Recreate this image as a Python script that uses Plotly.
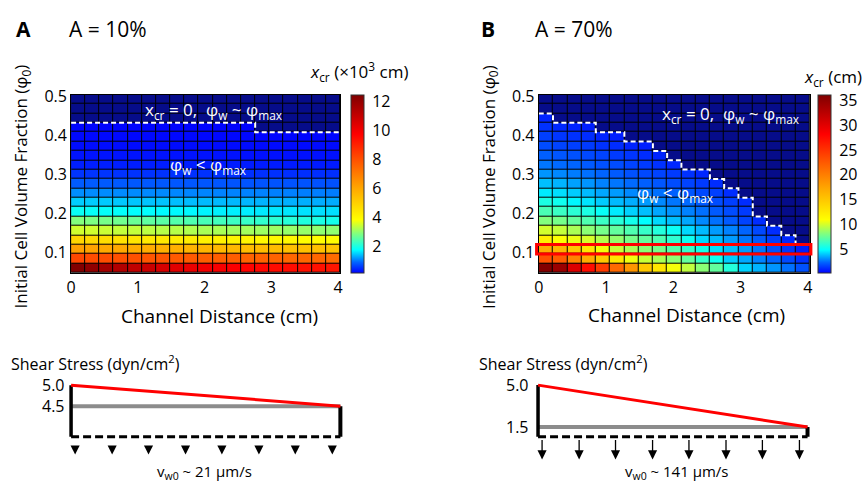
import plotly.graph_objects as go

# ---------------------------------------------------------------- data
# cell edges of the simulation grid
DIST_EDGES = [0.0, 0.212, 0.424, 0.636, 0.848, 1.061, 1.273, 1.485, 1.697, 1.909,
              2.121, 2.333, 2.545, 2.757, 2.969, 3.182, 3.394, 3.606, 3.818, 4.03]
PHI_EDGES = [0.049, 0.073, 0.097, 0.121, 0.145, 0.169, 0.193, 0.217, 0.241, 0.265,
             0.289, 0.313, 0.337, 0.361, 0.385, 0.409, 0.433, 0.457, 0.481, 0.505]

# x_cr for A = 10 % (units of 10^3 cm); rows go from low to high phi0
XCR_A10 = [
    [12.4, 12.1, 11.7, 11.4, 11.1, 10.9, 10.6, 10.4, 10.2, 10.0, 9.9, 9.8, 9.7, 9.6, 9.5, 9.5, 9.4, 9.4, 9.3],
    [8.2, 8.1, 8.1, 8.0, 8.0, 7.9, 7.9, 7.8, 7.8, 7.7, 7.7, 7.7, 7.6, 7.6, 7.6, 7.5, 7.5, 7.5, 7.4],
    [6.2, 6.1, 6.0, 6.0, 5.9, 5.9, 5.8, 5.8, 5.7, 5.7, 5.6, 5.6, 5.5, 5.5, 5.5, 5.4, 5.4, 5.4, 5.3],
    [4.9, 4.8, 4.7, 4.6, 4.5, 4.4, 4.4, 4.3, 4.3, 4.2, 4.2, 4.1, 4.1, 4.0, 4.0, 4.0, 3.9, 3.9, 3.9],
    [3.50, 3.50, 3.45, 3.40, 3.40, 3.35, 3.30, 3.30, 3.25, 3.20, 3.20, 3.15, 3.15, 3.10, 3.10, 3.05, 3.05, 3.00, 3.00],
    [2.90, 2.85, 2.80, 2.75, 2.70, 2.60, 2.55, 2.50, 2.45, 2.40, 2.35, 2.30, 2.25, 2.20, 2.15, 2.10, 2.05, 2.00, 1.95],
    [1.85, 1.83, 1.82, 1.80, 1.79, 1.78, 1.76, 1.75, 1.74, 1.72, 1.70, 1.69, 1.68, 1.66, 1.65, 1.64, 1.62, 1.61, 1.60],
    [1.50, 1.49, 1.48, 1.47, 1.46, 1.45, 1.44, 1.42, 1.41, 1.40, 1.39, 1.38, 1.37, 1.36, 1.35, 1.34, 1.33, 1.32, 1.31],
    [1.15, 1.14, 1.14, 1.13, 1.13, 1.12, 1.12, 1.11, 1.10, 1.10, 1.09, 1.09, 1.08, 1.08, 1.07, 1.07, 1.06, 1.06, 1.05],
    [0.85, 0.85, 0.84, 0.84, 0.83, 0.83, 0.83, 0.82, 0.82, 0.81, 0.81, 0.80, 0.80, 0.80, 0.79, 0.79, 0.79, 0.78, 0.78],
    [0.56, 0.56, 0.56, 0.55, 0.55, 0.55, 0.55, 0.54, 0.54, 0.54, 0.54, 0.53, 0.53, 0.53, 0.53, 0.52, 0.52, 0.52, 0.52],
    [0.40, 0.40, 0.40, 0.40, 0.39, 0.39, 0.39, 0.39, 0.39, 0.38, 0.38, 0.38, 0.38, 0.38, 0.38, 0.37, 0.37, 0.37, 0.37],
    [0.32, 0.32, 0.32, 0.32, 0.32, 0.31, 0.31, 0.31, 0.31, 0.31, 0.31, 0.31, 0.30, 0.30, 0.30, 0.30, 0.30, 0.30, 0.30],
    [0.27, 0.27, 0.27, 0.27, 0.26, 0.26, 0.26, 0.26, 0.26, 0.26, 0.26, 0.26, 0.26, 0.25, 0.25, 0.25, 0.25, 0.25, 0.25],
    [0.24, 0.24, 0.24, 0.24, 0.23, 0.23, 0.23, 0.23, 0.23, 0.23, 0.23, 0.23, 0.23, 0.22, 0.22, 0.22, 0.22, 0.22, 0.22],
    [0.21, 0.21, 0.21, 0.21, 0.21, 0.21, 0.21, 0.21, 0.21, 0.20, 0.20, 0.20, 0.20, 0, 0, 0, 0, 0, 0],
    [0] * 19,
    [0] * 19,
    [0] * 19,
]

# x_cr for A = 70 % (cm); rows go from low to high phi0
XCR_A70 = [
    [36.0, 34.6, 30.5, 27.5, 24.5, 21.5, 18.5, 15.0, 12.8, 10.8, 9.6, 8.4, 7.4, 5.8, 4.2, 3.7, 3.2, 2.6, 2.0],
    [23.1, 22.5, 19.8, 17.1, 15.0, 12.8, 10.7, 9.8, 9.1, 8.4, 7.4, 6.3, 5.3, 4.1, 3.5, 2.9, 2.4, 1.8, 1.3],
    [17.1, 16.4, 15.0, 12.8, 10.8, 9.8, 9.1, 8.4, 7.9, 7.1, 6.3, 5.5, 4.4, 3.9, 3.3, 2.7, 2.0, 1.4, 0.9],
    [12.1, 11.0, 10.6, 10.1, 9.3, 8.6, 7.9, 7.4, 6.9, 6.1, 5.3, 4.3, 3.8, 3.3, 2.7, 2.2, 1.6, 1.1, 0],
    [10.0, 9.7, 9.1, 8.4, 7.9, 7.4, 6.9, 6.3, 5.8, 5.2, 4.3, 3.8, 3.3, 2.9, 2.4, 1.8, 1.2, 0, 0],
    [8.2, 7.9, 7.4, 6.9, 6.4, 5.9, 5.4, 4.9, 4.3, 3.9, 3.5, 3.0, 2.6, 2.2, 1.7, 1.2, 0, 0, 0],
    [6.8, 6.4, 6.0, 5.6, 5.1, 4.6, 4.2, 3.9, 3.5, 3.2, 2.9, 2.6, 2.2, 1.9, 1.5, 0, 0, 0, 0],
    [5.6, 5.3, 4.8, 4.5, 4.1, 3.8, 3.6, 3.3, 3.0, 2.7, 2.5, 2.2, 1.9, 1.6, 1.2, 0, 0, 0, 0],
    [4.6, 4.4, 4.1, 3.8, 3.5, 3.3, 3.0, 2.8, 2.6, 2.3, 2.1, 1.8, 1.6, 1.2, 0, 0, 0, 0, 0],
    [3.9, 3.7, 3.4, 3.2, 2.9, 2.7, 2.5, 2.3, 2.1, 1.9, 1.7, 1.5, 1.2, 0, 0, 0, 0, 0, 0],
    [3.2, 3.0, 2.8, 2.6, 2.4, 2.2, 2.0, 1.8, 1.7, 1.5, 1.3, 1.1, 0, 0, 0, 0, 0, 0, 0],
    [2.7, 2.5, 2.4, 2.2, 2.0, 1.9, 1.7, 1.5, 1.3, 1.1, 0, 0, 0, 0, 0, 0, 0, 0, 0],
    [2.3, 2.1, 2.0, 1.8, 1.7, 1.5, 1.4, 1.2, 1.0, 0, 0, 0, 0, 0, 0, 0, 0, 0, 0],
    [1.9, 1.7, 1.6, 1.5, 1.3, 1.2, 1.0, 0.9, 0, 0, 0, 0, 0, 0, 0, 0, 0, 0, 0],
    [1.6, 1.4, 1.3, 1.2, 1.0, 0.9, 0, 0, 0, 0, 0, 0, 0, 0, 0, 0, 0, 0, 0],
    [1.3, 1.1, 1.0, 0.9, 0, 0, 0, 0, 0, 0, 0, 0, 0, 0, 0, 0, 0, 0, 0],
    [1.0, 0, 0, 0, 0, 0, 0, 0, 0, 0, 0, 0, 0, 0, 0, 0, 0, 0, 0],
    [0] * 19,
    [0] * 19,
]

HIGHLIGHT_ROW_A70 = 2          # phi0 ~ 0.1 row, outlined in red

CBAR_A10 = dict(cmin=0.18, cmax=12.45, ticks=[2, 4, 6, 8, 10, 12])
CBAR_A70 = dict(cmin=0.25, cmax=36.2, ticks=[5, 10, 15, 20, 25, 30, 35])

# shear-stress sketches: inlet / outlet wall stress, mean, filtration velocity
SHEAR_A10 = dict(inlet=5.0, outlet=4.5, floor=3.77, ticks=[5.0, 4.5], v="21")
SHEAR_A70 = dict(inlet=5.0, outlet=1.5, floor=0.68, ticks=[5.0, 1.5], v="141")
CHANNEL = [0, 4]
ARROW_X = [0.06, 0.61, 1.15, 1.7, 2.24, 2.79, 3.33, 3.88]

# ---------------------------------------------------------------- style
W, H = 867, 482
FONT = "Open Sans"
NAVY = "rgb(6,12,138)"
COLORSCALE = [
    [0.00, "rgb(0,0,255)"],
    [0.06, "rgb(0,100,255)"],
    [0.13, "rgb(0,255,255)"],
    [0.22, "rgb(128,255,128)"],
    [0.30, "rgb(255,255,0)"],
    [0.47, "rgb(255,170,0)"],
    [0.62, "rgb(255,90,0)"],
    [0.78, "rgb(255,0,0)"],
    [1.00, "rgb(128,0,0)"],
]


def px_x(p):
    return p / W


def px_y(p):
    return 1 - p / H


fig = go.Figure()


def add_map(z, xa, ya, cb, cb_left):
    positive = [[v if v > 0 else None for v in row] for row in z]
    zero = [[1 if v == 0 else None for v in row] for row in z]
    fig.add_trace(go.Heatmap(
        z=zero, x=DIST_EDGES, y=PHI_EDGES, xaxis=xa, yaxis=ya,
        colorscale=[[0, NAVY], [1, NAVY]], showscale=False,
        xgap=1, ygap=1, hoverinfo="skip"))
    fig.add_trace(go.Heatmap(
        z=positive, x=DIST_EDGES, y=PHI_EDGES, xaxis=xa, yaxis=ya,
        colorscale=COLORSCALE, zmin=cb["cmin"], zmax=cb["cmax"],
        xgap=1, ygap=1, hoverinfo="skip",
        colorbar=dict(
            x=px_x(cb_left), xanchor="left", xpad=0,
            y=px_y(178), yanchor="middle", ypad=0,
            len=181.4 / H, lenmode="fraction", thickness=13,
            outlinewidth=1, outlinecolor="#333",
            tickvals=cb["ticks"], ticks="outside", ticklen=5,
            tickcolor="rgba(0,0,0,0)",
            tickfont=dict(family=FONT, size=16, color="black"))))

    # dashed border of the x_cr = 0 region, one step per column
    xs, ys = [], []
    n_rows = len(z)
    for j in range(len(z[0])):
        k = n_rows
        while k > 0 and z[k - 1][j] == 0:
            k -= 1
        xs += [DIST_EDGES[j], DIST_EDGES[j + 1]]
        ys += [PHI_EDGES[k], PHI_EDGES[k]]
    fig.add_trace(go.Scatter(
        x=xs, y=ys, xaxis=xa, yaxis=ya, mode="lines", hoverinfo="skip",
        line=dict(color="white", width=2, dash="5px,3px"), showlegend=False))


add_map(XCR_A10, "x", "y", CBAR_A10, 349)
add_map(XCR_A70, "x2", "y2", CBAR_A70, 820.7)


def add_sketch(s, xa, ya, label_right):
    x0, x1 = CHANNEL
    fig.add_trace(go.Scatter(x=[x0, x1], y=[s["outlet"], s["outlet"]], xaxis=xa, yaxis=ya,
                             mode="lines", line=dict(color="rgb(140,140,140)", width=4),
                             hoverinfo="skip", showlegend=False))
    fig.add_trace(go.Scatter(x=[x0, x1], y=[s["floor"], s["floor"]], xaxis=xa, yaxis=ya,
                             mode="lines", line=dict(color="black", width=3, dash="8px,4px"),
                             hoverinfo="skip", showlegend=False))
    fig.add_trace(go.Scatter(x=[x0, x0], y=[s["floor"], s["inlet"]], xaxis=xa, yaxis=ya,
                             mode="lines", line=dict(color="black", width=3.5),
                             hoverinfo="skip", showlegend=False))
    fig.add_trace(go.Scatter(x=[x1, x1], y=[s["floor"], s["outlet"]], xaxis=xa, yaxis=ya,
                             mode="lines", line=dict(color="black", width=4),
                             hoverinfo="skip", showlegend=False))
    fig.add_trace(go.Scatter(x=[x0, x1], y=[s["inlet"], s["outlet"]], xaxis=xa, yaxis=ya,
                             mode="lines", line=dict(color="rgb(255,0,0)", width=3),
                             hoverinfo="skip", showlegend=False))
    # stress labels at the inlet side of the sketch
    for v in s["ticks"]:
        fig.add_annotation(text=f"{v:.1f}", x=px_x(label_right), xref="paper",
                           y=v, yref=ya, showarrow=False, borderpad=0,
                           xanchor="right", yanchor="middle",
                           font=dict(family=FONT, size=16, color="black"))


add_sketch(SHEAR_A10, "x3", "y3", 61.5)
add_sketch(SHEAR_A70, "x4", "y4", 530)

# ---------------------------------------------------------------- axes
heat_y = [px_y(268.7), px_y(87.3)]
tickfont = dict(family=FONT, size=16, color="black")
heat_x_common = dict(range=[DIST_EDGES[0], DIST_EDGES[-1]], tickvals=[0, 1, 2, 3, 4],
                     ticks="", showline=True, mirror=True, linecolor="black", linewidth=1,
                     showgrid=False, zeroline=False, tickfont=tickfont)
heat_y_common = dict(range=[PHI_EDGES[0], PHI_EDGES[-1]], tickvals=[0.1, 0.2, 0.3, 0.4, 0.5],
                     ticktext=["0.1", "0.2", "0.3", "0.4", "0.5"],
                     ticks="", showline=True, mirror=True, linecolor="black", linewidth=1,
                     showgrid=False, zeroline=False, tickfont=tickfont)

hidden = dict(visible=False, showgrid=False, zeroline=False)

fig.update_layout(
    width=W, height=H, margin=dict(l=0, r=0, t=0, b=0),
    paper_bgcolor="white", plot_bgcolor="white", showlegend=False,
    font=dict(family=FONT, color="black"),
    xaxis=dict(domain=[px_x(66.7), px_x(338.3)], anchor="y", **heat_x_common),
    yaxis=dict(domain=heat_y, anchor="x", **heat_y_common),
    xaxis2=dict(domain=[px_x(538.7), px_x(812.3)], anchor="y2", **heat_x_common),
    yaxis2=dict(domain=heat_y, anchor="x2", **heat_y_common),
    xaxis3=dict(domain=[px_x(59.9), px_x(345.3)], range=[-0.1, 4.1], anchor="y3", **hidden),
    yaxis3=dict(domain=[px_y(443.2), px_y(376.9)], range=[3.6, 5.15], anchor="x3", **hidden),
    xaxis4=dict(domain=[px_x(531.2), px_x(816.8)], range=[-0.1, 4.1], anchor="y4", **hidden),
    yaxis4=dict(domain=[px_y(438.2), px_y(378.4)], range=[0.5, 5.4], anchor="x4", **hidden),
)

# black under-layer shows through the cell gaps as grid lines
for xa, ya in [("x", "y"), ("x2", "y2")]:
    fig.add_shape(type="rect", xref=f"{xa} domain", yref=f"{ya} domain",
                  x0=0, x1=1, y0=0, y1=1, fillcolor="black", line_width=0, layer="below")

# red outline around the phi0 ~ 0.1 row
fig.add_shape(type="rect", xref="x2 domain", yref="y2",
              x0=-0.008, x1=1.004,
              y0=PHI_EDGES[HIGHLIGHT_ROW_A70], y1=PHI_EDGES[HIGHLIGHT_ROW_A70 + 1],
              line=dict(color="rgb(255,0,0)", width=3), fillcolor="rgba(0,0,0,0)")

# ---------------------------------------------------------------- text
def note(text, x, y, size=16, color="black", xanchor="center", angle=0, **kw):
    fig.add_annotation(text=text, x=x, y=y, xref="paper", yref="paper", showarrow=False,
                       xanchor=xanchor, yanchor="middle", textangle=angle, borderpad=0,
                       font=dict(family=FONT, size=size, color=color), **kw)


note("<b>A</b>", px_x(10), px_y(20), size=21, xanchor="left")
note("A = 10%", px_x(64), px_y(20), size=21, xanchor="left")
note("<b>B</b>", px_x(479), px_y(20), size=21, xanchor="left")
note("A = 70%", px_x(534), px_y(20), size=21, xanchor="left")

note("<i>x</i><sub>cr</sub> (×10<sup>3</sup> cm)", px_x(357), px_y(64), size=17)
note("<i>x</i><sub>cr</sub> (cm)", px_x(836), px_y(70), size=17)

ytitle = "Initial Cell Volume Fraction (φ<sub>0</sub>)"
note(ytitle, px_x(17), px_y(181), size=17, angle=-90)
note(ytitle, px_x(489), px_y(181), size=17, angle=-90)
note("Channel Distance (cm)", px_x(217), px_y(313), size=19)
note("Channel Distance (cm)", px_x(688), px_y(312), size=19)

note("x<sub>cr</sub> = 0,  φ<sub>w</sub> ~ φ<sub>max</sub>", px_x(210), px_y(103), size=17, color="white")
note("φ<sub>w</sub> < φ<sub>max</sub>", px_x(205), px_y(159), size=17, color="white")
note("x<sub>cr</sub> = 0,  φ<sub>w</sub> ~ φ<sub>max</sub>", px_x(732), px_y(108), size=17, color="white")
note("φ<sub>w</sub> < φ<sub>max</sub>", px_x(676), px_y(188), size=17, color="white")

note("Shear Stress (dyn/cm<sup>2</sup>)", px_x(5), px_y(361), size=16, xanchor="left")
note("Shear Stress (dyn/cm<sup>2</sup>)", px_x(477), px_y(361), size=16, xanchor="left")
note(f"v<sub>w0</sub> ~ {SHEAR_A10['v']} μm/s", px_x(201), px_y(472), size=15)
note(f"v<sub>w0</sub> ~ {SHEAR_A70['v']} μm/s", px_x(678), px_y(472), size=15)

# filtration arrows below the channel wall
for xa, tip, length in [("x3", 454, 9), ("x4", 459, 21)]:
    for xv in ARROW_X:
        fig.add_annotation(x=xv, y=px_y(tip), xref=xa, yref="paper", text="",
                           showarrow=True, arrowhead=2, arrowsize=1.4, arrowwidth=1.3,
                           arrowcolor="black", ax=0, ay=-length, standoff=0)

fig.write_html("out.html")
